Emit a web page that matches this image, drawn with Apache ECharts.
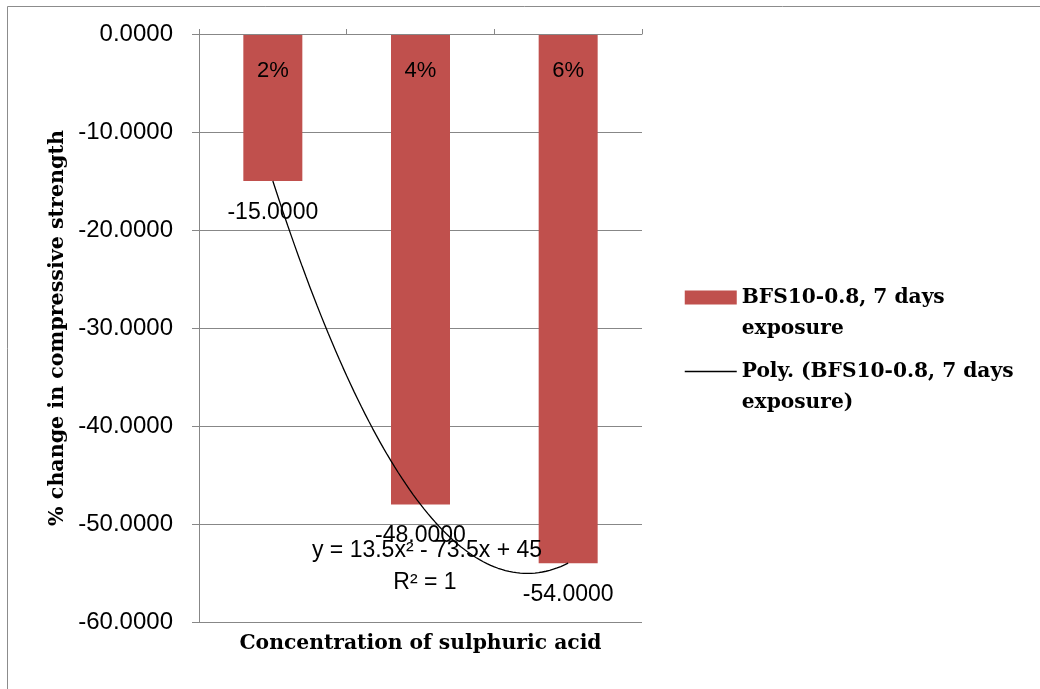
<!DOCTYPE html>
<html>
<head>
<meta charset="utf-8">
<script src="https://cdn.jsdelivr.net/npm/echarts@6/dist/echarts.min.js"></script>
<style>
html,body{margin:0;padding:0;background:#fff;}
#chart{width:1040px;height:689px;}
</style>
</head>
<body>
<div id="chart"></div>
<script>
const categories = ['2%', '4%', '6%'];
const barValues = [-15, -48, -54];
const barName = 'BFS10-0.8, 7 days exposure';
const trendName = 'Poly. (BFS10-0.8, 7 days exposure)';
const trendCoef = [13.5, -73.5, 45]; // y = a x^2 + b x + c, from the chart's trendline equation
const trendEquation = 'y = 13.5x² - 73.5x + 45';
const trendR2 = 'R² = 1';
const yMin = -60, yMax = 0, yStep = 10;

// trendline samples from the displayed polynomial, x = category index (1..3)
const trendData = [];
for (let i = 0; i <= 80; i++) {
  const x = 1 + i * (categories.length - 1) / 80;
  trendData.push([x, trendCoef[0] * x * x + trendCoef[1] * x + trendCoef[2]]);
}

const sans = 'Liberation Sans';
const serif = 'DejaVu Serif';
const gridColor = '#878787';

const chart = echarts.init(document.getElementById('chart'), null, {renderer: 'canvas'});
chart.setOption({
  backgroundColor: '#ffffff',
  animation: false,
  grid: {left: 199, top: 34, width: 443, height: 588, containLabel: false},
  legend: {
    orient: 'vertical',
    left: 679,
    top: 246,
    itemWidth: 52,
    itemHeight: 14,
    itemGap: -19,
    data: [
      {name: barName, icon: 'rect'},
      {name: trendName, itemStyle: {color: 'rgba(0,0,0,0)', borderWidth: 0, opacity: 0}, lineStyle: {color: '#000', width: 1.5}}
    ],
    formatter: function (name) {
      // leading blank line keeps the icon level with the first text line
      return '\u00a0\n' + name.replace(' exposure', '\nexposure');
    },
    textStyle: {
      fontFamily: serif, fontWeight: 'bold', fontSize: 20.2, color: '#000',
      lineHeight: 31
    }
  },
  xAxis: [
    {
      type: 'category',
      data: categories,
      position: 'top',
      z: 10,
      axisLine: {show: true, lineStyle: {color: gridColor, width: 1}},
      axisTick: {show: true, length: 5, lineStyle: {color: gridColor}},
      axisLabel: {inside: true, margin: 26, fontFamily: sans, fontSize: 22, color: '#000'},
      splitLine: {show: false}
    },
    {
      type: 'value',
      min: 0.5,
      max: categories.length + 0.5,
      position: 'bottom',
      axisLine: {show: false},
      axisTick: {show: false},
      axisLabel: {show: false},
      splitLine: {show: false},
      name: 'Concentration of sulphuric acid',
      nameLocation: 'middle',
      nameGap: 12,
      nameTextStyle: {fontFamily: serif, fontWeight: 'bold', fontSize: 20.3, color: '#000'}
    }
  ],
  yAxis: {
    type: 'value',
    min: yMin,
    max: yMax,
    interval: yStep,
    axisLine: {show: true, lineStyle: {color: gridColor, width: 1}},
    axisTick: {show: true, length: 7, lineStyle: {color: gridColor}},
    axisLabel: {
      fontFamily: sans, fontSize: 24, color: '#000', margin: 26,
      formatter: v => v.toFixed(4)
    },
    splitLine: {show: true, lineStyle: {color: gridColor, width: 1}},
    name: '% change in compressive strength',
    nameLocation: 'middle',
    nameRotate: 90,
    nameGap: 131,
    nameTextStyle: {fontFamily: serif, fontWeight: 'bold', fontSize: 20.6, color: '#000'}
  },
  series: [
    {
      type: 'bar',
      name: barName,
      xAxisIndex: 0,
      data: barValues,
      barWidth: 59,
      itemStyle: {color: '#C0504D'},
      label: {
        show: true,
        position: 'bottom',
        distance: 20,
        fontFamily: sans,
        fontSize: 23,
        color: '#000',
        formatter: p => p.value.toFixed(4)
      },
      z: 2
    },
    {
      type: 'line',
      name: trendName,
      xAxisIndex: 1,
      data: trendData,
      symbol: 'none',
      smooth: false,
      lineStyle: {color: '#000', width: 1.3},
      itemStyle: {color: '#000'},
      z: 3
    }
  ],
  graphic: [
    {
      type: 'rect', left: 5, top: 4, silent: true, z: -10,
      shape: {width: 1100, height: 750},
      style: {fill: 'none', stroke: '#8c8c8c', lineWidth: 1}
    },
    {
      type: 'text', x: 427, y: 551, z: 10,
      style: {text: trendEquation, font: '23px "Liberation Sans"', fill: '#000', align: 'center', verticalAlign: 'middle'}
    },
    {
      type: 'text', x: 425, y: 583, z: 10,
      style: {text: trendR2, font: '23px "Liberation Sans"', fill: '#000', align: 'center', verticalAlign: 'middle'}
    }
  ]
});
</script>
</body>
</html>
